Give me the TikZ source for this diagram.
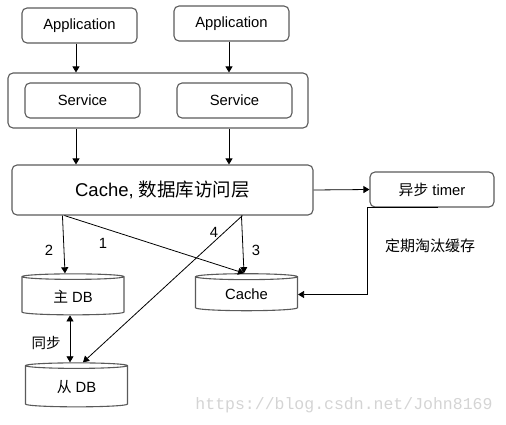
\documentclass[tikz,border=0pt]{standalone}
\usepackage{fontspec}
\setmainfont{Liberation Sans}
\newfontfamily\cjk{Noto Sans CJK SC}
\newfontfamily\wmfont{Liberation Mono}
\usetikzlibrary{arrows.meta,shapes.geometric}

\definecolor{boxgray}{HTML}{5A5A5A}
\definecolor{wmgray}{HTML}{D4D4D4}

\tikzset{
    box/.style={draw=boxgray, line width=1.1pt, rounded corners=5pt, font=\fontsize{14.8}{16}\selectfont},
    db/.style={cylinder, shape border rotate=90, aspect=0.12, draw=boxgray, line width=1.1pt,
        minimum width=102pt, font=\fontsize{14.8}{16}\selectfont},
    arr/.style={-{Triangle[length=6pt,width=7pt]}, line width=0.8pt},
    dblarr/.style={{Triangle[length=6pt,width=7pt]}-{Triangle[length=6pt,width=7pt]}, line width=0.8pt},
    lbl/.style={font=\fontsize{14.8}{16}\selectfont}
}

\begin{document}
\begin{tikzpicture}[x=1pt,y=-1pt]
    \useasboundingbox (0,0) rectangle (506,425);

    % Applications
    \node[box, minimum width=115pt, minimum height=35pt] (app1) at (79.5,25.5) {Application};
    \node[box, minimum width=115pt, minimum height=35pt] (app2) at (231.5,23.5) {Application};

    % Services
    \node[box, minimum width=300pt, minimum height=55pt] (svcbox) at (158,100.5) {};
    \node[box, minimum width=115pt, minimum height=35pt] (svc1) at (82.5,100.5) {Service};
    \node[box, minimum width=115pt, minimum height=35pt] (svc2) at (234.5,100.5) {Service};

    % Access layer and timer
    \node[box, minimum width=301pt, minimum height=50pt, font=\fontsize{18.5}{20}\selectfont] (layer) at (162.5,190) {Cache, {\cjk 数据库访问层}};
    \node[box, minimum width=124pt, minimum height=35pt] (timer) at (432,189.5) {{\cjk 异步} timer};

    % Storage
    \node[db, minimum height=41pt] (mdb) at (73,296.5) {{\cjk 主} DB};
    \node[db, minimum height=37pt] (cache) at (246.5,294.5) {Cache};
    \node[db, minimum height=44pt] (sdb) at (76.5,387) {{\cjk 从} DB};

    % Arrows
    \draw[arr] ([xshift=-3.5pt]app1.south) -- ([xshift=-3.5pt]app1.south |- svcbox.north);
    \draw[arr] ([xshift=-2.5pt]app2.south) -- ([xshift=-2.5pt]app2.south |- svcbox.north);
    \draw[arr] ([xshift=-3.5pt]app1.south |- svcbox.south) -- ([xshift=-3.5pt]app1.south |- layer.north);
    \draw[arr] ([xshift=-2.5pt]app2.south |- svcbox.south) -- ([xshift=-2.5pt]app2.south |- layer.north);
    \draw[arr] (layer.east) -- (timer.west);
    \draw[arr] ([xshift=51pt]layer.south west) -- ([xshift=-8pt]mdb.north);
    \draw[arr] ([xshift=53pt]layer.south west) -- ([xshift=-2.5pt]cache.north);
    \draw[arr] ([xshift=230pt]layer.south west) -- ([xshift=-2.5pt]cache.north);
    \draw[arr] ([xshift=231pt]layer.south west) -- ([xshift=6.5pt]sdb.north);
    \draw[dblarr] ([xshift=-3pt]mdb.south) -- ([xshift=-3pt]mdb.south |- sdb.north);
    \draw[arr] ([xshift=6pt]timer.south) -- ([xshift=-2pt]timer.south west) |- (cache.east);

    % Labels
    \node[lbl] (l2) at (49,250) {2};
    \node[lbl] (l1) at (103,243) {1};
    \node[lbl] (l3) at (256,250) {3};
    \node[lbl] (l4) at (214,232) {4};
    \node[lbl, font=\cjk\fontsize{14.5}{16}\selectfont] (sync) at (46,343) {同步};
    \node[lbl, font=\cjk\fontsize{15}{17}\selectfont] (evict) at (430,246) {定期淘汰缓存};

    % Watermark
    \node[text=wmgray, font=\wmfont\fontsize{16.5}{18}\selectfont] (wm) at (344,405) {https://blog.csdn.net/John8169};
\end{tikzpicture}
\end{document}
